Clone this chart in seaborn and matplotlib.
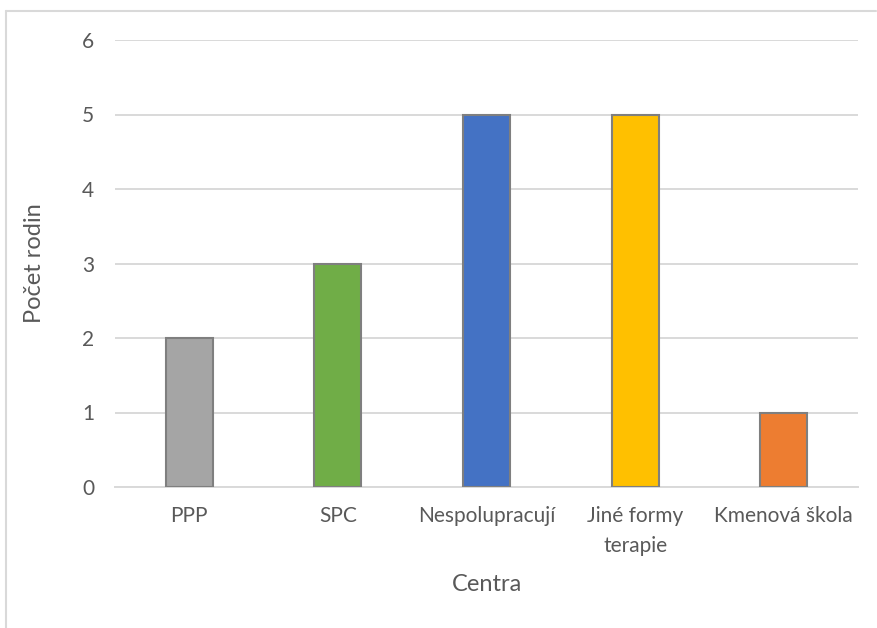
import matplotlib
matplotlib.use("Agg")
import matplotlib.pyplot as plt
import seaborn as sns
import pandas as pd
from matplotlib.lines import Line2D

categories = ["PPP", "SPC", "Nespolupracují", "Jiné formy\nterapie", "Kmenová škola"]
values = [2, 3, 5, 5, 1]
colors = ["#A5A5A5", "#70AD47", "#4472C4", "#FFC000", "#ED7D31"]
y_ticks = [0, 1, 2, 3, 4, 5, 6]

sns.set_theme(style="white")
plt.rcParams['font.family'] = ['Lato', 'DejaVu Sans']

df = pd.DataFrame({"cat": categories, "val": values})

fig = plt.figure(figsize=(8.77, 6.28), dpi=100)
ax = fig.add_axes([115/877, 1-487/628, (858-115)/877, (487-40)/628])

sns.barplot(data=df, x="cat", y="val", hue="cat", palette=colors, order=categories,
            hue_order=categories, width=0.316, edgecolor="#7F7F7F", linewidth=1.5,
            saturation=1, legend=False, ax=ax, dodge=False, zorder=3)

ax.set_ylim(0, 6)
ax.set_xlim(-0.5, 4.5)
ax.set_yticks(y_ticks)
ax.yaxis.grid(True, color="#D9D9D9", linewidth=1.4, zorder=0)
ax.set_axisbelow(True)
for s in ["top", "right", "left"]:
    ax.spines[s].set_visible(False)
ax.spines["bottom"].set_color("#D9D9D9")
ax.spines["bottom"].set_linewidth(1.4)
ax.tick_params(axis="both", length=0, labelsize=15, labelcolor="#595959")
ax.tick_params(axis="y", pad=15)
ax.tick_params(axis="x", pad=14)
for lbl in ax.get_xticklabels():
    lbl.set_linespacing(1.6)
ax.set_xlabel("Centra", fontsize=17, color="#595959", labelpad=13)
ax.set_ylabel("Počet rodin", fontsize=17, color="#595959", labelpad=27)

fig.add_artist(Line2D([6/877, 6/877], [0, 1-11/628], transform=fig.transFigure, color="#D9D9D9", linewidth=1.5))
fig.add_artist(Line2D([6/877, 876/877], [1-11/628, 1-11/628], transform=fig.transFigure, color="#D9D9D9", linewidth=1.5))

fig.savefig("out.png", dpi=100, facecolor="white")
